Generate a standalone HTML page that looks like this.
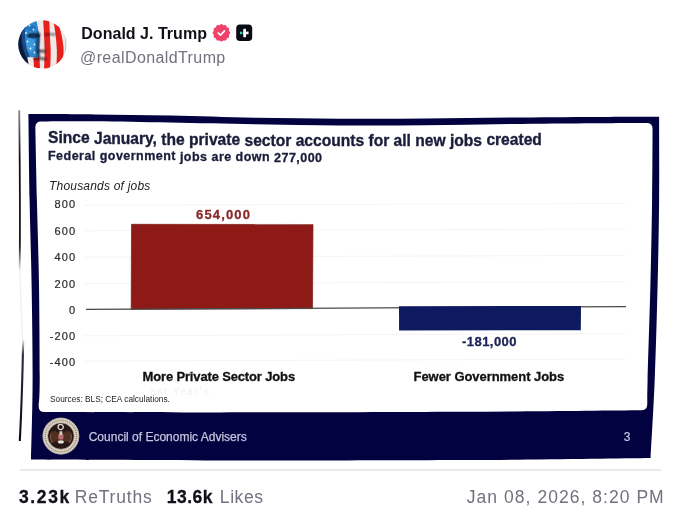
<!DOCTYPE html>
<html><head><meta charset="utf-8">
<style>
html,body{margin:0;padding:0;background:#fff;width:680px;height:523px;overflow:hidden;position:relative;font-family:"Liberation Sans",sans-serif;}
#wrap{position:absolute;left:0;top:0;width:680px;height:523px;filter:blur(0.4px);}
.t{position:absolute;white-space:nowrap;line-height:1;}
svg{position:absolute;left:0;top:0;}
.w1,.w2{position:relative;}
</style></head><body><div id="wrap">
<svg width="680" height="523" viewBox="0 0 680 523">
  <defs>
    <filter id="fb" x="-20%" y="-20%" width="140%" height="140%"><feGaussianBlur stdDeviation="0.9"/></filter>
    <clipPath id="av"><circle cx="42.4" cy="44.4" r="24.1"/></clipPath>
    <clipPath id="seal"><circle cx="0" cy="0" r="13"/></clipPath>
  </defs>
  <!-- avatar -->
  <g clip-path="url(#av)">
    <rect x="18" y="20" width="50" height="50" fill="#efe9e8"/>
    <path d="M17 18 L36 18 C37 24 38.5 30 39.5 36 C40 42 39 50 39.5 57 L28 57.5 L17 60 Z" fill="#2e88d0"/>
    <ellipse cx="30" cy="45" rx="5" ry="7" fill="#4aa6e8" opacity="0.6"/>
    <path d="M17 26 L24 24 C21 36 22 48 27 57 L30 68 L17 70 Z" fill="#0b1a36"/>
    <path d="M24 25 C22 36 23 46 28 57" stroke="#174a86" stroke-width="3.5" fill="none"/>
    <ellipse cx="33.5" cy="36" rx="6.5" ry="2.4" fill="#0e2d5c" opacity="0.75"/>
    <ellipse cx="31" cy="28" rx="5" ry="3" fill="#1b5da0" opacity="0.5"/>
    <path d="M28 57.5 L33.5 57.5 L34 67 L29 67 Z" fill="#f1ecea"/>
    <path d="M33.5 57.5 L39.5 57.5 L40 68 L34 68 Z" fill="#e41e1e"/>
    <path d="M43 18 L49.2 18 C49.6 28 50 38 50.5 46 C51 55 50.5 62 50 70 L44 70 C44.5 60 44.6 52 44.5 45 C44.2 36 43.5 26 43 18 Z" fill="#e8201c"/>
    <path d="M53.5 21 C56 21 58 23 59 26 C61 32 63 40 63.5 48 C64 56 62.5 62 59.5 68 L56 68 C57 60 57.2 52 56.5 45 C56 37 55 30 53.5 21 Z" fill="#e8201c"/>
    <g fill="#e6f2ff">
      <circle cx="29.5" cy="25.5" r="0.9"/><circle cx="33.5" cy="29.5" r="0.9"/><circle cx="26" cy="33" r="0.9"/>
      <circle cx="27.5" cy="41.5" r="0.9"/><circle cx="34.5" cy="44.5" r="0.9"/><circle cx="30.5" cy="48.5" r="1"/>
      <circle cx="34.5" cy="52.5" r="0.9"/>
    </g>
    <g stroke="#0e1420" fill="none" stroke-linecap="round" filter="url(#fb)">
      <path d="M38.2 33 C38.8 40 37.6 46 37.4 49 C38 52 38.4 54 38.6 56" stroke-width="2.4" opacity="0.8"/>
      <path d="M29 35 Q34 33.8 39.5 35" stroke-width="2" opacity="0.8"/>
      <path d="M45 34.8 Q50 33.6 55 34.6" stroke-width="1.5" opacity="0.75"/>
      <path d="M37.5 51 Q41 50.5 45 51.5" stroke-width="2.2" opacity="0.85"/>
      <path d="M34.5 58.5 Q40 58 45.5 59" stroke-width="2.2" opacity="0.8"/>
      <path d="M44 38 L44.8 50" stroke-width="0.8" opacity="0.3"/>
    </g>
    <path d="M64 30 C67 40 67 52 62 64" stroke="#3a3030" stroke-width="1" fill="none" opacity="0.3"/>
  </g>
  <!-- badge -->
  <g transform="translate(221.4,32.8)">
    <path d="M0.00,-8.80 L0.57,-8.65 L1.09,-8.28 L1.57,-7.88 L2.04,-7.63 L2.58,-7.61 L3.20,-7.71 L3.83,-7.77 L4.40,-7.62 L4.82,-7.21 L5.08,-6.62 L5.30,-6.04 L5.59,-5.59 L6.04,-5.30 L6.62,-5.08 L7.21,-4.82 L7.62,-4.40 L7.77,-3.83 L7.71,-3.20 L7.61,-2.58 L7.63,-2.04 L7.88,-1.57 L8.28,-1.09 L8.65,-0.57 L8.80,-0.00 L8.65,0.57 L8.28,1.09 L7.88,1.57 L7.63,2.04 L7.61,2.58 L7.71,3.20 L7.77,3.83 L7.62,4.40 L7.21,4.82 L6.62,5.08 L6.04,5.30 L5.59,5.59 L5.30,6.04 L5.08,6.62 L4.82,7.21 L4.40,7.62 L3.83,7.77 L3.20,7.71 L2.58,7.61 L2.04,7.63 L1.57,7.88 L1.09,8.28 L0.57,8.65 L0.00,8.80 L-0.57,8.65 L-1.09,8.28 L-1.57,7.88 L-2.04,7.63 L-2.58,7.61 L-3.20,7.71 L-3.83,7.77 L-4.40,7.62 L-4.82,7.21 L-5.08,6.62 L-5.30,6.04 L-5.59,5.59 L-6.04,5.30 L-6.62,5.08 L-7.21,4.82 L-7.62,4.40 L-7.77,3.83 L-7.71,3.20 L-7.61,2.58 L-7.63,2.04 L-7.88,1.57 L-8.28,1.09 L-8.65,0.57 L-8.80,0.00 L-8.65,-0.57 L-8.28,-1.09 L-7.88,-1.57 L-7.63,-2.04 L-7.61,-2.58 L-7.71,-3.20 L-7.77,-3.83 L-7.62,-4.40 L-7.21,-4.82 L-6.62,-5.08 L-6.04,-5.30 L-5.59,-5.59 L-5.30,-6.04 L-5.08,-6.62 L-4.82,-7.21 L-4.40,-7.62 L-3.83,-7.77 L-3.20,-7.71 L-2.58,-7.61 L-2.04,-7.63 L-1.57,-7.88 L-1.09,-8.28 L-0.57,-8.65Z" fill="#f0436a"/>
    <path d="M-3.1,0.2 L-0.9,2.4 L3.1,-1.9" stroke="#fff" stroke-width="1.7" fill="none" stroke-linecap="round" stroke-linejoin="round"/>
  </g>
  <!-- truth logo -->
  <rect x="236.2" y="24.4" width="16" height="16.6" rx="3.8" fill="#0b0b16"/>
  <rect x="243.3" y="28.8" width="2.7" height="8.4" fill="#fff"/>
  <rect x="243.3" y="31.6" width="5.2" height="2.7" fill="#fff"/>
  <rect x="240" y="31.7" width="2.3" height="2.5" fill="#3fd3b6"/>

  <!-- chart photo -->
  <linearGradient id="bl1" gradientUnits="userSpaceOnUse" x1="0" y1="110" x2="0" y2="270"><stop offset="0" stop-color="#888"/><stop offset="0.3" stop-color="#111"/><stop offset="0.85" stop-color="#1a1a1a"/><stop offset="1" stop-color="#eeeeee"/></linearGradient>
  <linearGradient id="bl2" gradientUnits="userSpaceOnUse" x1="0" y1="340" x2="0" y2="441"><stop offset="0" stop-color="#e8e8e8"/><stop offset="0.15" stop-color="#2a2a3a"/><stop offset="1" stop-color="#0a0a1a"/></linearGradient>
  <path d="M19.2 110.3 Q20.3 200 19.7 270" stroke="url(#bl1)" stroke-width="1.8" fill="none"/>
  <path d="M19.7 270 L22.5 340" stroke="#f0f0f0" stroke-width="1.5" fill="none"/>
  <path d="M23.2 340 Q22 400 19.8 441" stroke="url(#bl2)" stroke-width="2.1" fill="none"/>
  <path d="M20 470 L661 470" stroke="#e2e2e2" stroke-width="1.6"/>
  <path d="M28.40 114.10 C39.50 114.15 71.40 114.15 95.00 114.40 C118.60 114.65 143.33 115.03 170.00 115.60 C196.67 116.17 226.67 117.28 255.00 117.80 C283.33 118.32 311.67 118.57 340.00 118.70 C368.33 118.83 396.67 118.78 425.00 118.60 C453.33 118.42 481.67 117.87 510.00 117.60 C538.33 117.33 570.15 117.13 595.00 117.00 C619.85 116.87 648.42 116.83 659.10 116.80 C659.10 130.67 659.35 171.97 659.10 200.00 C658.85 228.03 658.33 255.00 657.60 285.00 C656.87 315.00 655.87 351.18 654.70 380.00 C653.53 408.82 651.28 444.92 650.60 457.90 C618.83 458.27 531.77 459.67 460.00 460.10 C388.23 460.53 291.50 460.58 220.00 460.50 C148.50 460.42 62.50 459.75 31.00 459.60 C31.27 446.33 32.50 409.10 32.60 380.00 C32.70 350.90 32.10 315.00 31.60 285.00 C31.10 255.00 30.13 228.48 29.60 200.00 C29.07 171.52 28.60 128.42 28.40 114.10 Z" fill="#030240"/>
  <path d="M41.20 121.39 C50.17 121.37 73.53 121.10 95.00 121.30 C116.47 121.50 143.33 122.10 170.00 122.60 C196.67 123.10 226.67 123.83 255.00 124.30 C283.33 124.77 311.67 125.25 340.00 125.40 C368.33 125.55 396.67 125.43 425.00 125.20 C453.33 124.97 481.67 124.33 510.00 124.00 C538.33 123.67 572.23 123.38 595.00 123.20 C617.77 123.02 638.00 122.98 646.60 122.93 Q652.60 122.90 652.56 128.90 C652.48 140.75 652.46 173.98 652.10 200.00 C651.74 226.02 651.15 255.00 650.40 285.00 C649.65 315.00 648.12 360.13 647.60 380.00 C647.08 399.87 647.33 400.17 647.28 404.20 Q647.20 410.20 641.20 410.25 C611.00 410.51 530.20 411.44 460.00 411.80 C389.80 412.16 289.25 412.36 220.00 412.40 C150.75 412.44 73.75 412.08 44.50 412.01 Q38.50 412.00 38.72 406.00 C38.89 401.67 39.65 400.17 39.70 380.00 C39.75 359.83 39.47 315.00 39.00 285.00 C38.53 255.00 37.51 226.27 36.90 200.00 C36.29 173.73 35.59 139.50 35.33 127.40 Q35.20 121.40 41.20 121.39 Z" fill="#fff"/>
  <!-- gridlines -->
  <g stroke="#f4f4f4" stroke-width="1">
    <path d="M84 205.3 L625 203.5"/>
    <path d="M84 230.8 L625 229"/>
    <path d="M84 257.2 L625 255.4"/>
    <path d="M84 283.6 L625 281.8"/>
    <path d="M84 335.8 L625 333.6"/>
    <path d="M84 361.2 L625 359"/>
  </g>
  <!-- red bar -->
  <path d="M131.5 224.3 L313 224.5 L312.5 308.6 L131.2 309.2 Z" fill="#8e1a17" stroke="#7a1714" stroke-width="0.7"/>
  <!-- zero line -->
  <path d="M86 309.4 L626 306.6" stroke="#4a4a4a" stroke-width="1.3"/>
  <!-- blue bar -->
  <path d="M399 306.3 L581 305.9 L580.8 330.2 L399.1 330.5 Z" fill="#0d1a60"/>
  <!-- seal -->
  <g transform="translate(60.9,436.1)">
    <circle r="18.3" fill="#d9d1c2"/>
    <circle r="18" fill="none" stroke="#a89e8c" stroke-width="0.6"/>
    <circle r="15.7" fill="none" stroke="#4a4038" stroke-width="1.5" stroke-dasharray="0.9 1.1" opacity="0.55"/>
    <circle r="13" fill="#261816"/>
    <circle r="13.2" fill="none" stroke="#9a907e" stroke-width="0.6"/>
  </g>
  <g transform="translate(60.9,436.1)">
    <g clip-path="url(#seal)">
      <path d="M-11 -3 Q-7 -7 -2.5 -3 L2.5 -3 Q7 -7 11 -3 L9 7 Q4 4 0 7 Q-4 4 -9 7 Z" fill="#4e3022"/>
      <path d="M-10 -2 Q-11.5 2 -8.5 6.5 M10 -2 Q11.5 2 8.5 6.5" stroke="#7c5444" stroke-width="1.2" fill="none"/>
      <circle cx="-0.2" cy="-9.1" r="2.6" fill="none" stroke="#e2ddd4" stroke-width="1.3"/>
      <path d="M-1.4 -4.8 L1.4 -4.8 L1.7 -1.2 L-1.7 -1.2 Z" fill="#cfc8b8"/>
      <path d="M-2.7 -1.2 L2.7 -1.2 L2.4 2.8 Q0 4.2 -2.4 2.8 Z" fill="#c06a72"/>
      <ellipse cx="0" cy="5.8" rx="3" ry="1.7" fill="#e8e4dc"/>
    </g>
  </g>
</svg>

<div class="t" style="left:81.3px;top:25.6px;font-size:16px;font-weight:bold;color:#101018;letter-spacing:0.02px">Donald J. Trump</div>
<div class="t" style="left:80px;top:50.4px;font-size:16px;color:#72727e;letter-spacing:0.4px">@realDonaldTrump</div>

<div class="t" id="ttl" style="left:48px;top:130px;font-size:15.6px;font-weight:bold;color:#1b1d3a;letter-spacing:0px;-webkit-text-stroke:0.35px #1b1d3a"><span class="w1" style="top:0.40px">Since</span> <span class="w1" style="top:1.34px">January,</span> <span class="w1" style="top:1.97px">the</span> <span class="w1" style="top:2.40px">private</span> <span class="w1" style="top:2.77px">sector</span> <span class="w1" style="top:2.97px">accounts</span> <span class="w1" style="top:2.95px">for</span> <span class="w1" style="top:2.88px">all</span> <span class="w1" style="top:2.75px">new</span> <span class="w1" style="top:2.51px">jobs</span> <span class="w1" style="top:2.05px">created</span></div>
<div class="t" id="sub" style="left:48px;top:149.3px;font-size:12.5px;font-weight:bold;color:#1b1d3a;letter-spacing:0.47px;-webkit-text-stroke:0.3px #1b1d3a"><span class="w2" style="top:0.25px">Federal</span> <span class="w2" style="top:0.95px">government</span> <span class="w2" style="top:1.54px">jobs</span> <span class="w2" style="top:1.83px">are</span> <span class="w2" style="top:2.16px">down</span> <span class="w2" style="top:2.64px">277,000</span></div>
<div class="t" style="left:49px;top:179.5px;font-size:12px;font-style:italic;color:#222;letter-spacing:0.2px">Thousands of jobs</div>

<div class="t" style="left:35px;width:41.2px;text-align:right;top:199.48px;font-size:11px;color:#2a2a2a;letter-spacing:1.1px;-webkit-text-stroke:0.2px #2a2a2a">800</div>
<div class="t" style="left:35px;width:41.2px;text-align:right;top:226.03px;font-size:11px;color:#2a2a2a;letter-spacing:1.1px;-webkit-text-stroke:0.2px #2a2a2a">600</div>
<div class="t" style="left:35px;width:41.2px;text-align:right;top:252.33px;font-size:11px;color:#2a2a2a;letter-spacing:1.1px;-webkit-text-stroke:0.2px #2a2a2a">400</div>
<div class="t" style="left:35px;width:41.2px;text-align:right;top:278.73px;font-size:11px;color:#2a2a2a;letter-spacing:1.1px;-webkit-text-stroke:0.2px #2a2a2a">200</div>
<div class="t" style="left:35px;width:41.2px;text-align:right;top:304.63px;font-size:11px;color:#2a2a2a;letter-spacing:1.1px;-webkit-text-stroke:0.2px #2a2a2a">0</div>
<div class="t" style="left:35px;width:41.2px;text-align:right;top:330.53px;font-size:11px;color:#2a2a2a;letter-spacing:1.1px;-webkit-text-stroke:0.2px #2a2a2a">-200</div>
<div class="t" style="left:35px;width:41.2px;text-align:right;top:356.73px;font-size:11px;color:#2a2a2a;letter-spacing:1.1px;-webkit-text-stroke:0.2px #2a2a2a">-400</div>

<div class="t" style="left:196px;top:208px;font-size:13px;font-weight:bold;color:#8a2a2a;letter-spacing:1.15px;-webkit-text-stroke:0.3px #8a2a2a">654,000</div>
<div class="t" style="left:462px;top:335px;font-size:13px;font-weight:bold;color:#1c2356;letter-spacing:0.45px;-webkit-text-stroke:0.3px #1c2356">-181,000</div>
<div class="t" style="left:142.5px;top:369.5px;font-size:13px;font-weight:bold;color:#111;letter-spacing:-0.15px;-webkit-text-stroke:0.3px #111">More Private Sector Jobs</div>
<div class="t" style="left:413.5px;top:369.5px;font-size:13px;font-weight:bold;color:#111;letter-spacing:-0.05px;-webkit-text-stroke:0.3px #111">Fewer Government Jobs</div>
<div class="t" style="left:150px;top:385.5px;font-size:10.5px;font-weight:bold;color:#f5f5f5;letter-spacing:1.2px">ast Year's</div>
<div class="t" style="left:50px;top:395px;font-size:8.3px;color:#222">Sources: BLS; CEA calculations.</div>

<div class="t" style="left:88.7px;top:431px;font-size:12px;color:#c4c4dc;-webkit-text-stroke:0.25px #c4c4dc">Council of Economic Advisers</div>
<div class="t" style="left:623.8px;top:431px;font-size:12px;color:#c4c4dc;-webkit-text-stroke:0.2px #c4c4dc">3</div>

<div class="t" style="left:19px;top:488.8px;font-size:17.5px;font-weight:bold;color:#101018;letter-spacing:1.6px;-webkit-text-stroke:0.3px #101018">3.23k</div>
<div class="t" style="left:74.8px;top:488.8px;font-size:17.5px;color:#72727e;letter-spacing:0.8px">ReTruths</div>
<div class="t" style="left:166.8px;top:488.8px;font-size:17.5px;font-weight:bold;color:#101018;letter-spacing:0.5px;-webkit-text-stroke:0.3px #101018">13.6k</div>
<div class="t" style="left:219.8px;top:488.8px;font-size:17.5px;color:#72727e;letter-spacing:0.6px">Likes</div>
<div class="t" style="left:466.8px;top:488.8px;font-size:17.5px;color:#72727e;letter-spacing:1.04px">Jan 08, 2026, 8:20 PM</div>
</div></body></html>
